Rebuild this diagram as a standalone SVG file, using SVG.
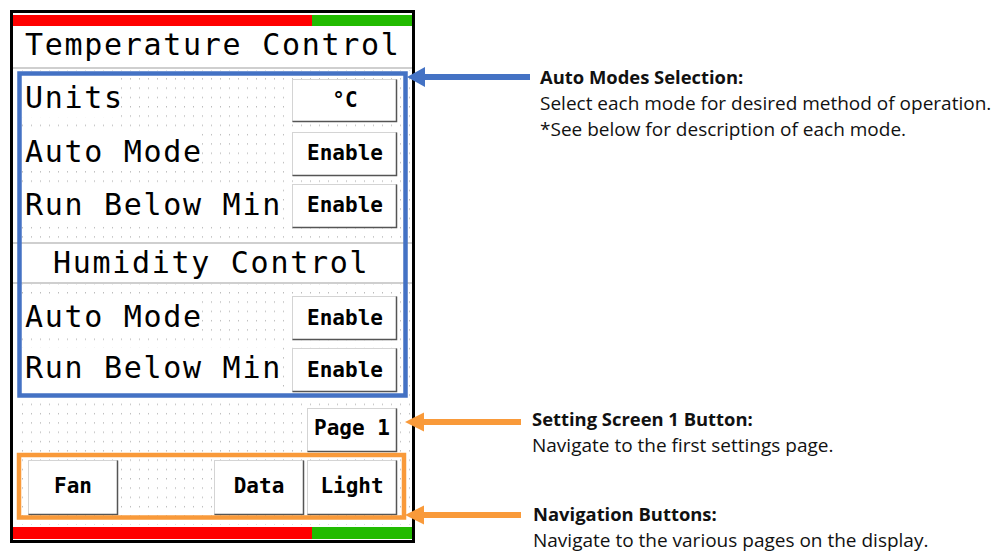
<svg xmlns="http://www.w3.org/2000/svg" width="995" height="552" viewBox="0 0 995 552">
<style>
.lbl{font-family:"DejaVu Sans Mono","Liberation Mono",monospace;font-size:30px;letter-spacing:1.7px;fill:#000}
.btxt{font-family:"DejaVu Sans Mono","Liberation Mono",monospace;font-size:21px;font-weight:bold;fill:#000;text-anchor:middle}
.btn{fill:#fff;stroke:#d4d4d4;stroke-width:1}
.shd{fill:none;stroke:#555;stroke-width:1.5}
.wbg{fill:#fff}
.head{font-family:"Open Sans","Noto Sans","Liberation Sans",sans-serif;font-size:18.4px;font-weight:bold;fill:#111}
.desc{font-family:"Open Sans","Noto Sans","Liberation Sans",sans-serif;font-size:19px;fill:#111}
.gl{stroke:#cfcfcf;stroke-width:2}
</style>
<defs>
<pattern id="dots" x="0" y="0" width="9" height="9.3" patternUnits="userSpaceOnUse">
<rect x="4" y="4" width="1" height="1" fill="#a0a0a0"/>
</pattern>
</defs>
<rect width="995" height="552" fill="#fff"/>
<g id="screen">
<rect x="11.5" y="11.5" width="402" height="530" fill="#fff" stroke="#000" stroke-width="3"/>
<rect x="13" y="15" width="299" height="11" fill="#ff0000"/>
<rect x="312" y="15" width="100" height="11" fill="#22bb00"/>
<rect x="13" y="527" width="299" height="12" fill="#ff0000"/>
<rect x="312" y="527" width="100" height="12" fill="#22bb00"/>
<line class="gl" x1="13" y1="68" x2="412" y2="68"/>
<rect x="15" y="70" width="395" height="455" fill="url(#dots)"/>
<rect class="wbg" x="22" y="78" width="99" height="39"/>
<rect class="wbg" x="22" y="133" width="179" height="37"/>
<rect class="wbg" x="22" y="184" width="260" height="40"/>
<rect class="wbg" x="13" y="242" width="399" height="42"/>
<rect class="wbg" x="22" y="298" width="179" height="37"/>
<rect class="wbg" x="22" y="348" width="260" height="40"/>
<line class="gl" x1="13" y1="243" x2="412" y2="243"/>
<line class="gl" x1="13" y1="283" x2="412" y2="283"/>
<text class="lbl" x="25" y="55">Temperature Control</text>
<text class="lbl" x="25" y="108">Units</text>
<text class="lbl" x="25" y="162">Auto Mode</text>
<text class="lbl" x="25" y="215">Run Below Min</text>
<text class="lbl" x="53" y="273">Humidity Control</text>
<text class="lbl" x="25" y="327">Auto Mode</text>
<text class="lbl" x="25" y="378">Run Below Min</text>
</g>
<g id="btn-units"><rect class="btn" x="292.5" y="79.5" width="104" height="42"/><polyline class="shd" points="396.5,79.5 396.5,121.5 292.5,121.5"/><text class="btxt" x="345" y="107">°C</text></g>
<g id="btn-temp-auto"><rect class="btn" x="292.5" y="132.5" width="104" height="43"/><polyline class="shd" points="396.5,132.5 396.5,175.5 292.5,175.5"/><text class="btxt" x="345" y="160">Enable</text></g>
<g id="btn-temp-rbm"><rect class="btn" x="292.5" y="184.5" width="104" height="43"/><polyline class="shd" points="396.5,184.5 396.5,227.5 292.5,227.5"/><text class="btxt" x="345" y="212">Enable</text></g>
<g id="btn-hum-auto"><rect class="btn" x="292.5" y="296.5" width="104" height="43"/><polyline class="shd" points="396.5,296.5 396.5,339.5 292.5,339.5"/><text class="btxt" x="345" y="325">Enable</text></g>
<g id="btn-hum-rbm"><rect class="btn" x="292.5" y="348.5" width="104" height="43"/><polyline class="shd" points="396.5,348.5 396.5,391.5 292.5,391.5"/><text class="btxt" x="345" y="377">Enable</text></g>
<g id="btn-page1"><rect class="btn" x="307.5" y="408.5" width="89" height="43"/><polyline class="shd" points="396.5,408.5 396.5,451.5 307.5,451.5"/><text class="btxt" x="352" y="435">Page 1</text></g>
<g id="btn-fan"><rect class="btn" x="28.5" y="460.5" width="89" height="54"/><polyline class="shd" points="117.5,460.5 117.5,514.5 28.5,514.5"/><text class="btxt" x="73" y="493">Fan</text></g>
<g id="btn-data"><rect class="btn" x="214.5" y="460.5" width="89" height="54"/><polyline class="shd" points="303.5,460.5 303.5,514.5 214.5,514.5"/><text class="btxt" x="259" y="493">Data</text></g>
<g id="btn-light"><rect class="btn" x="307.5" y="460.5" width="89" height="54"/><polyline class="shd" points="396.5,460.5 396.5,514.5 307.5,514.5"/><text class="btxt" x="352" y="493">Light</text></g>
<g id="auto-modes-box"><rect x="19.5" y="73.5" width="386" height="322" fill="none" stroke="#4472c4" stroke-width="4.5"/></g>
<g id="nav-box"><rect x="19" y="455" width="385" height="62.5" fill="none" stroke="#f99a3a" stroke-width="4.5"/></g>
<g id="connectors">
<line x1="423" y1="77" x2="530" y2="77" stroke="#4472c4" stroke-width="6"/>
<polygon points="407,77 425,67 425,87" fill="#4472c4"/>
<line x1="422" y1="422" x2="521" y2="422" stroke="#f99a3a" stroke-width="6"/>
<polygon points="405,422 424,412.5 424,431.5" fill="#f99a3a"/>
<line x1="422" y1="515" x2="521" y2="515" stroke="#f99a3a" stroke-width="6"/>
<polygon points="405,515 424,505.5 424,524.5" fill="#f99a3a"/>
</g>
<g id="note-auto">
<text class="head" x="540" y="84">Auto Modes Selection:</text>
<text class="desc" x="540" y="110">Select each mode for desired method of operation.</text>
<text class="desc" x="540" y="136">*See below for description of each mode.</text>
</g>
<g id="note-page1">
<text class="head" x="532" y="426">Setting Screen 1 Button:</text>
<text class="desc" x="532" y="452">Navigate to the first settings page.</text>
</g>
<g id="note-nav">
<text class="head" x="533" y="521">Navigation Buttons:</text>
<text class="desc" x="533" y="547">Navigate to the various pages on the display.</text>
</g>
</svg>
